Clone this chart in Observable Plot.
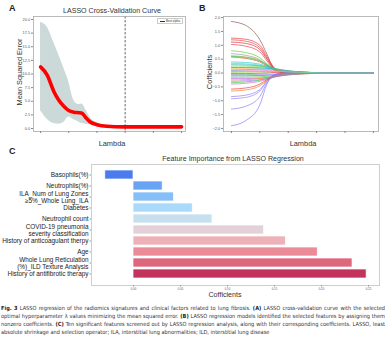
<!DOCTYPE html>
<html><head><meta charset="utf-8">
<script src="https://cdn.jsdelivr.net/npm/d3@7"></script>
<script src="https://cdn.jsdelivr.net/npm/@observablehq/plot@0.6"></script>
<style>
body{margin:0;background:#fff;}
#fig{position:relative;width:387px;height:344px;overflow:hidden;font-family:"Liberation Sans",Arial,sans-serif;color:#222;background:#fff;}
.abs{position:absolute;white-space:nowrap;line-height:1;}
.plab{position:absolute;font-weight:bold;font-size:9px;line-height:1;}
.ttl{position:absolute;font-size:7.1px;color:#333;line-height:1;white-space:nowrap;transform:translateX(-50%);}
.vlab{position:absolute;font-size:7px;color:#333;line-height:1;white-space:nowrap;transform:translate(-50%,-50%) rotate(-90deg);}
#legA{position:absolute;left:157px;top:18px;width:26px;height:6px;border:0.5px solid #ccc;background:#fff;font-size:3px;color:#333;display:flex;align-items:center;gap:1.5px;padding-left:1.5px;box-sizing:border-box;}
#legA span.d{display:inline-block;width:5px;border-top:0.6px dashed #333;}
#cap{position:absolute;left:1px;top:304px;width:384px;font-family:"Liberation Sans Narrow","DejaVu Sans Condensed","Liberation Sans",sans-serif;font-size:5.6px;line-height:8px;color:#333;}
#cap div{text-align:justify;text-align-last:justify;white-space:nowrap;overflow:hidden;}
#cap div.last{text-align-last:left;}
#cap b{color:#222;}
svg{overflow:visible;}
</style></head><body><div id="fig"></div>
<script>
// ---------- Panel A: LASSO cross-validation curve ----------
const cvLambda = [1e-4, 1.72e-4, 2.95e-4, 4.44e-4, 6.67e-4, 1e-3, 1.5e-3, 2.25e-3, 2.96e-3, 3.87e-3, 5.82e-3, 1e-2, 2.25e-2, 8.73e-2, 10];
const cvMean  = [11.3, 9.8, 6.8, 5.2, 4.1, 3.3, 3.0, 2.9, 2.8, 2.1, 1.2, 0.7, 0.4, 0.3, 0.3];
const cvUpper = [19.5, 18.6, 15.8, 13.5, 11.1, 8.6, 5.2, 4.4, 4.5, 3.6, 2.0, 1.0, 0.5, 0.45, 0.45];
const cvLower = [3.25, 1.7, 0.9, 0.8, 1.1, 2.1, 1.6, 1.2, 0.9, 0.8, 0.7, 0.4, 0.25, 0.2, 0.2];
const bestAlpha = 0.1;
const lambdaTicks = [1e-4, 1e-3, 1e-2, 1e-1, 1, 10];
const lambdaTickLabels = ["10\u207B\u2074", "10\u207B\u00B3", "10\u207B\u00B2", "10\u207B\u00B9", "10\u2070", "10\u00B9"];
const mseTicks = [0, 2.5, 5, 7.5, 10, 12.5, 15, 17.5, 20];

// ---------- Panel B: coefficient paths ----------
const pathLambda = [1e-4, 3.16e-4, 1e-3, 1.78e-3, 3.16e-3, 5.62e-3, 1e-2, 3.16e-2, 0.1, 0.178, 10];
const coefPaths = [
  [1.86, 1.72, 1.20, 0.68, 0.15, 0.03, 0.01, 0, 0, 0, 0],
  [1.26, 1.22, 1.00, 0.60, 0.20, 0.06, 0.01, 0, 0, 0, 0],
  [1.20, 1.15, 0.92, 0.54, 0.17, 0.05, 0.01, 0, 0, 0, 0],
  [1.12, 1.07, 0.85, 0.50, 0.15, 0.04, 0.01, 0, 0, 0, 0],
  [1.03, 0.97, 0.76, 0.44, 0.13, 0.04, 0.01, 0, 0, 0, 0],
  [0.80, 0.74, 0.55, 0.34, 0.14, 0.05, 0.02, 0, 0, 0, 0],
  [0.70, 0.64, 0.48, 0.30, 0.13, 0.05, 0.01, 0, 0, 0, 0],
  [0.62, 0.58, 0.45, 0.29, 0.13, 0.05, 0.01, 0, 0, 0, 0],
  [0.58, 0.53, 0.40, 0.26, 0.12, 0.04, 0.01, 0, 0, 0, 0],
  [0.60, 0.56, 0.43, 0.30, 0.16, 0.07, 0.03, 0.01, 0, 0, 0],
  [0.40, 0.38, 0.32, 0.25, 0.16, 0.09, 0.05, 0.02, 0.005, 0, 0],
  [0.35, 0.33, 0.28, 0.22, 0.15, 0.10, 0.06, 0.03, 0.01, 0, 0],
  [0.30, 0.29, 0.26, 0.22, 0.17, 0.12, 0.08, 0.04, 0.01, 0, 0],
  [0.25, 0.25, 0.24, 0.20, 0.16, 0.12, 0.08, 0.04, 0.01, 0, 0],
  [0.20, 0.20, 0.19, 0.17, 0.14, 0.10, 0.07, 0.03, 0.01, 0, 0],
  [0.15, 0.15, 0.14, 0.13, 0.11, 0.09, 0.06, 0.03, 0.01, 0, 0],
  [0.10, 0.10, 0.10, 0.09, 0.08, 0.07, 0.05, 0.02, 0.01, 0, 0],
  [0.05, 0.05, 0.05, 0.05, 0.05, 0.04, 0.03, 0.02, 0.005, 0, 0],
  [0.02, 0.03, 0.04, 0.05, 0.06, 0.05, 0.04, 0.02, 0.01, 0, 0],
  [-0.02, -0.02, -0.01, 0, 0.02, 0.03, 0.03, 0.02, 0.005, 0, 0],
  [-0.05, -0.05, -0.05, -0.04, -0.04, -0.03, -0.02, -0.01, 0, 0, 0],
  [-0.10, -0.10, -0.09, -0.08, -0.07, -0.06, -0.04, -0.02, -0.005, 0, 0],
  [-0.15, -0.15, -0.14, -0.12, -0.10, -0.08, -0.05, -0.02, -0.005, 0, 0],
  [-0.20, -0.20, -0.18, -0.16, -0.13, -0.10, -0.07, -0.03, -0.01, 0, 0],
  [-0.25, -0.24, -0.20, -0.17, -0.13, -0.09, -0.06, -0.03, -0.01, 0, 0],
  [-0.30, -0.28, -0.24, -0.20, -0.15, -0.10, -0.06, -0.02, -0.005, 0, 0],
  [-0.35, -0.32, -0.26, -0.20, -0.13, -0.08, -0.04, -0.01, 0, 0, 0],
  [-0.40, -0.37, -0.30, -0.23, -0.15, -0.08, -0.04, -0.01, 0, 0, 0],
  [-0.58, -0.54, -0.40, -0.24, -0.09, -0.03, -0.01, 0, 0, 0, 0],
  [-0.65, -0.61, -0.46, -0.27, -0.10, -0.03, -0.01, 0, 0, 0, 0],
  [-0.85, -0.80, -0.60, -0.28, -0.06, -0.01, 0, 0, 0, 0, 0],
  [-0.93, -0.88, -0.65, -0.30, -0.07, -0.02, 0, 0, 0, 0, 0],
  [-1.30, -1.20, -0.85, -0.35, -0.08, -0.02, 0, 0, 0, 0, 0],
  [-1.90, -1.72, -1.15, -0.40, -0.08, -0.02, 0, 0, 0, 0, 0],
  [0.10, 0.12, 0.15, 0.16, 0.14, 0.10, 0.06, 0.03, 0.01, 0, 0],
  [-0.08, -0.06, -0.02, 0.03, 0.06, 0.06, 0.04, 0.02, 0.005, 0, 0]
];
const coefTicks = [-2, -1.5, -1, -0.5, 0, 0.5, 1, 1.5, 2];

// ---------- Panel C: feature importance ----------
const features = [
  "Basophils(%)",
  "Neutrophils(%)",
  "ILA_Num of Lung Zones\n\u22655%_Whole Lung_ILA",
  "Diabetes",
  "Neutrophil count",
  "COVID-19 pneumonia\nseverity classification",
  "History of anticoagulant therpy",
  "Age",
  "Whole Lung Reticulation\n(%)_ILD Texture Analysis",
  "History of antifibrotic therapy"
];
const coefficients = [-0.030, 0.031, 0.043, 0.063, 0.084, 0.139, 0.162, 0.196, 0.233, 0.248];
const importanceTicks = [0, 0.05, 0.10, 0.15, 0.20, 0.25];

// ---------- styling options ----------
const pathPalette = ["#8c564b","#e8323a","#e64040","#dd2b3a","#f03c46","#52d43c","#9a9a9a","#a3a634","#e0453a","#3fcf5a",
  "#2cc9c2","#35d6cf","#2bb5a8","#62d84a","#3d74e6","#ff8a1f","#e377c2","#8c8c8c","#9be23a","#e83030",
  "#9b7ef0","#3a6ee8","#45c84a","#c064d4","#ff7f0e","#9a80f2","#3cc845","#d06ad8","#e9393c","#ff7a20",
  "#8f7cf6","#9486f5","#8d7af4","#8a78f5","#33c7d0","#8fe07a"];
const barPalette = ["#4b7bec","#69a3f3","#86bff7","#a9d9fb","#c6e0ef","#e2d2d7","#eeb1b7","#eb8b98","#de667d","#c2345b"];
const font = "'Liberation Sans', Arial, sans-serif";

const fig = document.getElementById("fig");
function place(node, left, top) {
  node.style.position = "absolute"; node.style.left = left + "px"; node.style.top = top + "px";
  fig.appendChild(node);
}
function addDiv(cls, html, style) {
  const d = document.createElement("div"); d.className = cls; d.innerHTML = html;
  Object.assign(d.style, style); fig.appendChild(d); return d;
}

// Panel A
const cvRows = cvLambda.map((l, i) => ({lambda: l, mean: cvMean[i], lo: cvLower[i], hi: cvUpper[i]}));
const plotA = Plot.plot({
  width: 190, height: 150, marginLeft: 33, marginRight: 5, marginTop: 16, marginBottom: 19,
  style: {fontFamily: font, background: "transparent", color: "#555"},
  x: {type: "log", domain: [10 ** -4.25, 10 ** 1.14]},
  y: {domain: [-0.55, 20.55]},
  marks: [
    Plot.areaY(cvRows, {x: "lambda", y1: "lo", y2: "hi", fill: "#ccd9d9", curve: "monotone-x"}),
    Plot.lineY(cvRows, {x: "lambda", y: "mean", stroke: "#ff0000", strokeWidth: 3.6, curve: "monotone-x"}),
    Plot.ruleX([bestAlpha], {stroke: "#444", strokeWidth: 0.8, strokeDasharray: "2.5,1.5"}),
    Plot.frame({stroke: "#aaa", strokeWidth: 0.8}),
    Plot.axisX({ticks: lambdaTicks, tickFormat: (d, i) => lambdaTickLabels[i], tickSize: 2, tickPadding: 1.5, fontSize: 3.8, label: null, stroke: "#888"}),
    Plot.axisY({ticks: mseTicks, tickFormat: d3.format(".1f"), tickSize: 2, tickPadding: 1.5, fontSize: 3.8, label: null, stroke: "#888"})
  ]
});
place(plotA, 0, 0);

// Panel B
const pathRows = coefPaths.flatMap((vals, k) => vals.map((v, i) => ({id: k, lambda: pathLambda[i], coef: v})));
const plotB = Plot.plot({
  width: 197, height: 150, marginLeft: 33, marginRight: 9, marginTop: 16, marginBottom: 19,
  style: {fontFamily: font, background: "transparent", color: "#555"},
  x: {type: "log", domain: [10 ** -4.28, 10 ** 1.18]},
  y: {domain: [-2.11, 2.04]},
  color: {type: "ordinal", domain: coefPaths.map((_, k) => k), range: pathPalette},
  marks: [
    Plot.line(pathRows, {x: "lambda", y: "coef", z: "id", stroke: "id", strokeWidth: 0.75, strokeOpacity: 0.9, curve: "monotone-x"}),
    Plot.frame({stroke: "#aaa", strokeWidth: 0.8}),
    Plot.axisX({ticks: lambdaTicks, tickFormat: (d, i) => lambdaTickLabels[i], tickSize: 2, tickPadding: 1.5, fontSize: 3.8, label: null, stroke: "#888"}),
    Plot.axisY({ticks: coefTicks, tickFormat: d3.format(".1f"), tickSize: 2, tickPadding: 1.5, fontSize: 3.8, label: null, stroke: "#888"})
  ]
});
place(plotB, 190, 0);

// Panel C
const featRows = features.map((f, i) => ({feature: f, coef: coefficients[i]}));
const plotC = Plot.plot({
  width: 387, height: 158, marginLeft: 91, marginRight: 8, marginTop: 19, marginBottom: 18,
  style: {fontFamily: font, background: "transparent", color: "#222"},
  x: {domain: [-0.0447, 0.2617]},
  y: {domain: features, padding: 0.14},
  color: {domain: features, range: barPalette},
  marks: [
    Plot.barX(featRows, {x: "coef", y: "feature", fill: "feature", stroke: "#fff", strokeWidth: 0.7}),
    Plot.frame({stroke: "#cfcfcf", strokeWidth: 1}),
    Plot.axisY({tickSize: 1.5, tickPadding: 1.5, fontSize: 6.4, lineHeight: 1.2, label: null, stroke: "#999", fill: "#222"}),
    Plot.axisX({ticks: importanceTicks, tickFormat: d3.format(".2f"), tickSize: 1.5, tickPadding: 1, fontSize: 2.8, label: null, stroke: "#999", fill: "#555"})
  ]
});
place(plotC, 0, 145);

// Text overlays
addDiv("plab", "A", {left: "9px", top: "4px"});
addDiv("plab", "B", {left: "199px", top: "4px"});
addDiv("plab", "C", {left: "9px", top: "147px"});
addDiv("ttl", "LASSO Cross-Validation Curve", {left: "112px", top: "8px"});
addDiv("ttl", "Lambda", {left: "112px", top: "140px", fontSize: "7.4px"});
addDiv("vlab", "Mean Squared Error", {left: "20px", top: "72px", fontSize: "7.4px"});
addDiv("ttl", "Lambda", {left: "303px", top: "140px", fontSize: "7.4px"});
addDiv("vlab", "Cofficients", {left: "210px", top: "72px", fontSize: "7.4px"});
addDiv("ttl", "Feature Importance from LASSO Regression", {left: "233px", top: "156px", fontSize: "7.1px"});
addDiv("ttl", "Cofficients", {left: "225px", top: "292px", fontSize: "7.1px"});
const leg = document.createElement("div"); leg.id = "legA";
leg.innerHTML = '<span class="d"></span><span>Best alpha</span>'; fig.appendChild(leg);

const cap = document.createElement("div"); cap.id = "cap";
cap.innerHTML =
  '<div><b>Fig. 3</b> LASSO regression of the radiomics signatures and clinical factors related to lung fibrosis. <b>(A)</b> LASSO cross-validation curve with the selected</div>' +
  '<div>optimal hyperparameter \u03BB values minimizing the mean squared error. <b>(B)</b> LASSO regression models identified the selected features by assigning them</div>' +
  '<div>nonzero coefficients. <b>(C)</b> Ten significant features screened out by LASSO regression analysis, along with their corresponding coefficients. LASSO, least</div>' +
  '<div class="last">absolute shrinkage and selection operator; ILA, interstitial lung abnormalities; ILD, interstitial lung disease</div>';
fig.appendChild(cap);
</script>
</body></html>
